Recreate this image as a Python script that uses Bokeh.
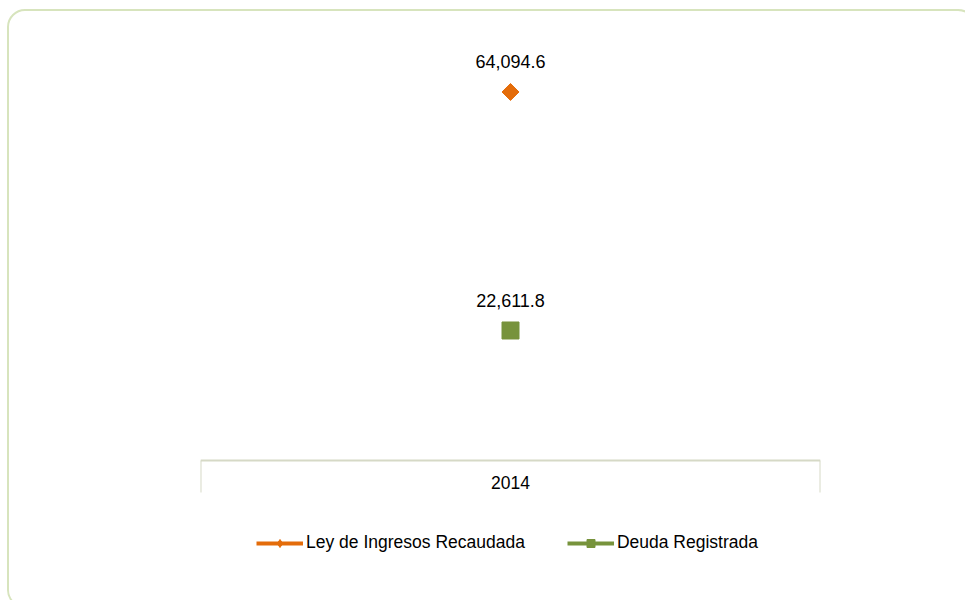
import numpy as np
from bokeh.plotting import figure
from bokeh.models import (Range1d, LinearAxis, FixedTicker,
                          Legend, LegendItem, InlineStyleSheet)
from bokeh.core.properties import value
from bokeh.embed import file_html
from bokeh.resources import INLINE

# ---- data ----
categories = ["2014"]
series_names = ["Ley de Ingresos Recaudada", "Deuda Registrada"]
ley_ingresos = [64094.6]
deuda_registrada = [22611.8]

ORANGE = "#E46C0A"
GREEN = "#77933C"
AXIS_COLOR = "#D6D9C6"
FRAME_COLOR = "#D7E4BD"
FONT = "Liberation Sans"

# category slots: each category occupies one unit, centred at i + 0.5
n_cat = len(categories)
cat_x = [i + 0.5 for i in range(n_cat)]
cat_bounds = [float(i) for i in range(n_cat + 1)]

p = figure(width=965, height=600, output_backend="svg", toolbar_location=None,
           x_range=Range1d(0, n_cat), y_range=Range1d(-16520, 73570),
           x_axis_location=None, y_axis_location=None,
           min_border_left=200, min_border_right=145,
           min_border_top=37, min_border_bottom=45)
p.outline_line_color = None
p.xgrid.visible = False
p.ygrid.visible = False
p.background_fill_color = "white"
p.border_fill_color = "white"

# category axis drawn as a box (ticks at category boundaries), sitting at y = 0
axis = LinearAxis(ticker=FixedTicker(ticks=cat_x, minor_ticks=cat_bounds),
                  major_label_overrides={x: c for x, c in zip(cat_x, categories)},
                  fixed_location=0,
                  axis_line_color=AXIS_COLOR, axis_line_width=2,
                  major_tick_line_color=None, major_tick_in=0, major_tick_out=0,
                  minor_tick_line_color=AXIS_COLOR, minor_tick_line_width=2,
                  minor_tick_in=0, minor_tick_out=32,
                  major_label_standoff=-17,
                  major_label_text_font=FONT, major_label_text_font_size="17.5px",
                  major_label_text_color="#000000")
p.add_layout(axis, "below")

# series (single point each: the line parts only show in the legend)
l1 = p.line(x=cat_x, y=ley_ingresos, line_color=ORANGE, line_width=4)
# diamond symbol used by the legend (covered by the rotated square below)
d1 = p.scatter(x=cat_x, y=ley_ingresos, marker="diamond", size=10,
               fill_color=ORANGE, line_color=ORANGE)
s1 = p.scatter(x=cat_x, y=ley_ingresos, marker="square", angle=np.pi / 4,
               size=12, fill_color=ORANGE, line_color=ORANGE)
l2 = p.line(x=cat_x, y=deuda_registrada, line_color=GREEN, line_width=4)
s2 = p.scatter(x=cat_x, y=deuda_registrada, marker="square",
               size=17, fill_color=GREEN, line_color=GREEN)

# data labels
for vals in (ley_ingresos, deuda_registrada):
    p.text(x=cat_x, y=vals, text=[f"{v:,.1f}" for v in vals],
           text_align="center", text_baseline="alphabetic", y_offset=-30,
           text_font=value(FONT), text_font_size="18px", text_color="#000000")

legend = Legend(items=[LegendItem(label=series_names[0], renderers=[l1, d1]),
                       LegendItem(label=series_names[1], renderers=[l2, s2])],
                orientation="horizontal", location=(56, 2),
                glyph_width=47, glyph_height=20, label_height=20,
                label_standoff=3, spacing=42,
                padding=0, margin=0, border_line_color=None,
                background_fill_alpha=0,
                label_text_font=FONT, label_text_font_size="17.5px",
                label_text_color="#000000")
p.add_layout(legend)

# rounded chart-area frame (extends past the right / bottom edges)
p.stylesheets = [InlineStyleSheet(css="""
:host { position: relative; overflow: hidden; }
:host::after {
  content: "";
  position: absolute;
  left: 7px; top: 9px;
  width: 969px; height: 599px;
  box-sizing: border-box;
  border: 2.5px solid #D7E4BD;
  border-radius: 18px;
  pointer-events: none;
}
""")]

open("out.html", "w").write(file_html(p, INLINE))
